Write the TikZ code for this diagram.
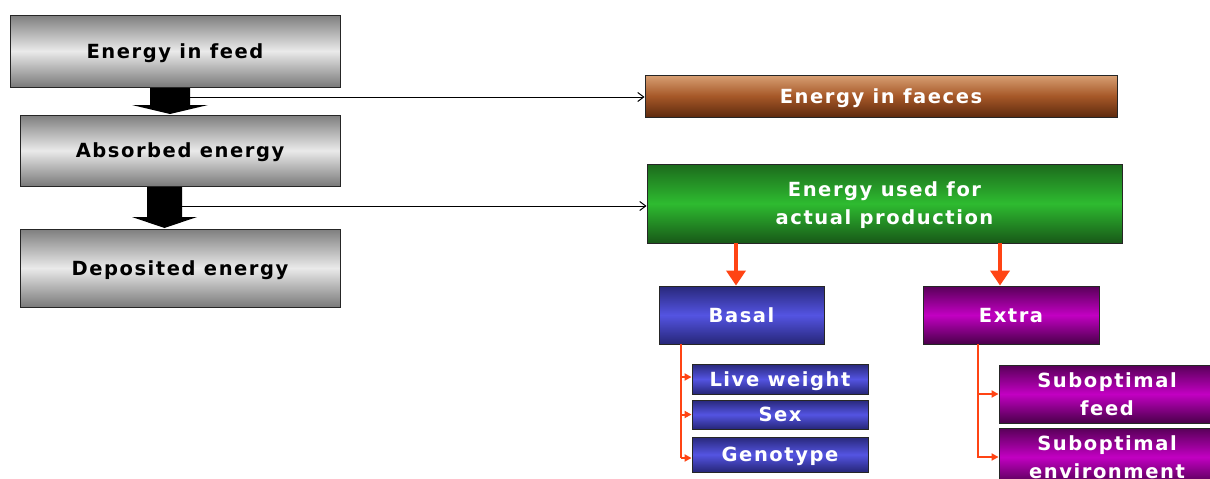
\documentclass[tikz,border=0pt]{standalone}
\usepackage{fontspec}
\usetikzlibrary{arrows.meta}
\newfontfamily\boxfont[LetterSpace=8]{DejaVu Sans}
\definecolor{greyTop}{HTML}{7E7E7E}
\definecolor{greyMid}{HTML}{EAEAEA}
\definecolor{greyBot}{HTML}{7A7A7A}
\definecolor{brownTop}{HTML}{D8A074}
\definecolor{brownMid}{HTML}{A65828}
\definecolor{brownBot}{HTML}{5E2A0E}
\definecolor{greenTop}{HTML}{1C6A1C}
\definecolor{greenMid}{HTML}{2EBB30}
\definecolor{greenBot}{HTML}{185818}
\definecolor{blueTop}{HTML}{28287A}
\definecolor{blueMid}{HTML}{5454E2}
\definecolor{blueBot}{HTML}{262678}
\definecolor{purpTop}{HTML}{580058}
\definecolor{purpMid}{HTML}{C200C2}
\definecolor{purpBot}{HTML}{4A004A}
\definecolor{linkRed}{HTML}{FF4414}
\begin{document}
\begin{tikzpicture}[x=1pt,y=-1pt,
  box/.style={rectangle,draw=black!85,line width=0.9pt,inner sep=0pt,text depth=0pt,
    align=center,font=\boxfont\bfseries\fontsize{19.5}{28}\selectfont},
  greybox/.style={box,top color=greyTop,bottom color=greyBot,middle color=greyMid,text=black},
  brownbox/.style={box,top color=brownTop,bottom color=brownBot,middle color=brownMid,text=white},
  greenbox/.style={box,top color=greenTop,bottom color=greenBot,middle color=greenMid,text=white},
  bluebox/.style={box,top color=blueTop,bottom color=blueBot,middle color=blueMid,text=white},
  purplebox/.style={box,top color=purpTop,bottom color=purpBot,middle color=purpMid,text=white},
  thinarrow/.style={draw=black,line width=1pt,-{Straight Barb[length=6pt,width=9pt]}},
  downlink/.style={draw=linkRed,line width=4pt,-{Triangle[length=15pt,width=19pt]}},
  branch/.style={draw=linkRed,line width=2pt,-{Triangle[length=7pt,width=7pt]}},
  bigarrow/.style={fill=black}]
\useasboundingbox (0,0) rectangle (1210,479);
\clip (0,0) rectangle (1210,479);

% wide black flow arrows between the stacked energy boxes
\fill[bigarrow] (150,86) -- (190,86) -- (190,105) -- (208,105) -- (170,114)
  -- (132,105) -- (150,105) -- cycle;
\fill[bigarrow] (147,185) -- (182,185) -- (182,217) -- (197,217) -- (164.5,228)
  -- (132,217) -- (147,217) -- cycle;

% left column
\node[greybox,minimum width=330,minimum height=72] (feed) at (175,51) {Energy in feed};
\node[greybox,minimum width=320,minimum height=71] (absorbed) at (180,150.5) {Absorbed energy};
\node[greybox,minimum width=320,minimum height=78] (deposited) at (180,268) {Deposited energy};

% right column
\node[brownbox,minimum width=472,minimum height=42] (faeces) at (881,96) {Energy in faeces};
\node[greenbox,minimum width=475,minimum height=79] (production) at (884.5,203.5)
  {Energy used for\\actual production};
\node[bluebox,minimum width=165,minimum height=58] (basal) at (741.5,315) {Basal};
\node[purplebox,minimum width=176,minimum height=58] (extra) at (1011,315) {Extra};

\node[bluebox,minimum width=176,minimum height=30] (live) at (780,379) {Live weight};
\node[bluebox,minimum width=176,minimum height=29] (sex) at (780,414.5) {Sex};
\node[bluebox,minimum width=176,minimum height=35] (geno) at (780,454.5) {Genotype};

\node[purplebox,minimum width=216,minimum height=58] (subfeed) at (1107,394) {Suboptimal\\feed};
\node[purplebox,minimum width=216,minimum height=58] (subenv) at (1107,457) {Suboptimal\\environment};

% losses leaving the main flow
\coordinate (lossA) at (190,97);
\coordinate (lossB) at (182,206);
\draw[thinarrow] (lossA) -- (lossA -| faeces.west);
\draw[thinarrow] (lossB) -- (lossB -| production.west);

% split of production energy
\draw[downlink] ([xshift=-5.5pt]basal.north |- production.south) -- ([xshift=-5.5pt]basal.north);
\draw[downlink] ([xshift=-11pt]extra.north |- production.south) -- ([xshift=-11pt]extra.north);

% basal components
\coordinate (bj) at (681,344);
\draw[draw=linkRed,line width=2pt] (bj) -- (681,458);
\draw[branch] (681,377) -- (live.west |- 0,377);
\draw[branch] (bj |- sex.west) -- (sex.west);
\draw[branch] (681,458) -- (geno.west |- 0,458);

% extra components
\coordinate (ej) at (978,344);
\draw[branch] (ej) |- (subfeed.west);
\draw[branch] (ej) |- (subenv.west);
\end{tikzpicture}
\end{document}
